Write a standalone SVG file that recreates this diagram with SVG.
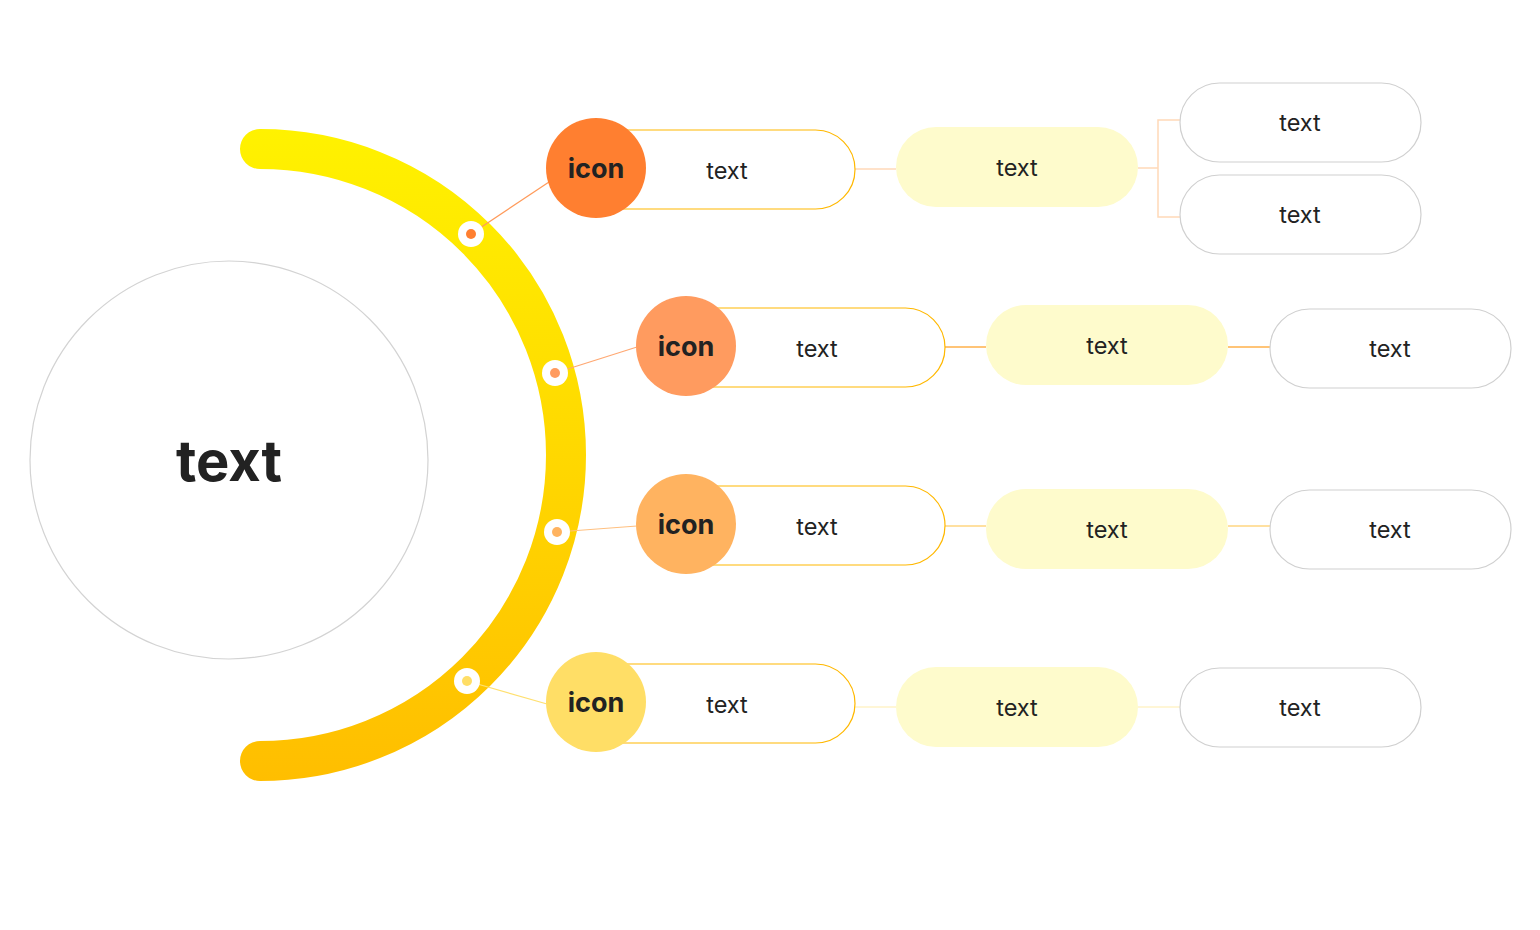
<svg xmlns="http://www.w3.org/2000/svg" width="1540" height="930" viewBox="0 0 1540 930">
<defs>
<linearGradient id="arcGrad" x1="0" y1="129" x2="0" y2="781" gradientUnits="userSpaceOnUse">
<stop offset="0" stop-color="#FFF200"/>
<stop offset="1" stop-color="#FFBE00"/>
</linearGradient>
</defs>
<style>
.t{font-family:Inter,"Liberation Sans",sans-serif;fill:#222;text-anchor:middle;dominant-baseline:central}
.lbl{font-size:23.5px}
.icon{font-size:27px;font-weight:700}
.big{font-size:56px;font-weight:700}
.outline{fill:#fff;stroke:#FFB800;stroke-width:1.2}
.yel{fill:#FEFBCC}
.gray{fill:#fff;stroke:#D0D0D0;stroke-width:1.2}
.ring{fill:#fff}
</style>
<rect width="1540" height="930" fill="#fff"/>
<g id="center">
<circle cx="229" cy="460" r="199" fill="#fff" stroke="#D3D3D3" stroke-width="1.2"/>
<text class="t big" x="229" y="461">text</text>
</g>
<g id="arc">
<path d="M260,149 A306,306 0 0 1 260,761" fill="none" stroke="url(#arcGrad)" stroke-width="40" stroke-linecap="round"/>
</g>
<g id="connectors" fill="none" stroke-width="1.2">
<line x1="471" y1="234" x2="549" y2="182" stroke="#FF9A5A"/>
<line x1="555" y1="373" x2="637" y2="347" stroke="#FFA872"/>
<line x1="557" y1="532" x2="637" y2="526" stroke="#FFC080"/>
<line x1="467" y1="681" x2="547" y2="704" stroke="#FFE070"/>
<line x1="855" y1="169" x2="896" y2="169" stroke="#FFD9B8" stroke-width="1.5"/>
<path d="M1138,168 H1158 M1180,120 H1158 V217 H1180" stroke="#FFD9B8" stroke-width="1.5"/>
<line x1="945" y1="347" x2="986" y2="347" stroke="#FFB04A" stroke-width="1.5"/>
<line x1="1228" y1="347" x2="1270" y2="347" stroke="#FFB04A" stroke-width="1.5"/>
<line x1="945" y1="526" x2="986" y2="526" stroke="#FFE0A0" stroke-width="2"/>
<line x1="1228" y1="526" x2="1270" y2="526" stroke="#FFE0A0" stroke-width="2"/>
<line x1="855" y1="707" x2="896" y2="707" stroke="#FFF3C8" stroke-width="1.5"/>
<line x1="1138" y1="707" x2="1180" y2="707" stroke="#FFF3C8" stroke-width="1.5"/>
</g>
<g id="dots">
<circle class="ring" cx="471" cy="234" r="13"/><circle cx="471" cy="234" r="5" fill="#FF7F30"/>
<circle class="ring" cx="555" cy="373" r="13"/><circle cx="555" cy="373" r="5" fill="#FF9B5F"/>
<circle class="ring" cx="557" cy="532" r="13"/><circle cx="557" cy="532" r="5" fill="#FFB360"/>
<circle class="ring" cx="467" cy="681" r="13"/><circle cx="467" cy="681" r="5" fill="#FFDE66"/>
</g>
<g id="row1-main">
<rect class="outline" x="560" y="130" width="295" height="79" rx="39.5"/>
<circle cx="596" cy="168" r="50" fill="#FF7F30"/>
<text class="t icon" x="596" y="168">icon</text>
<text class="t lbl" x="727" y="170">text</text>
</g>
<g id="row1-mid"><rect class="yel" x="896" y="127" width="242" height="80" rx="40"/><text class="t lbl" x="1017" y="167">text</text></g>
<g id="row1-leafA"><rect class="gray" x="1180" y="83" width="241" height="79" rx="39.5"/><text class="t lbl" x="1300" y="122">text</text></g>
<g id="row1-leafB"><rect class="gray" x="1180" y="175" width="241" height="79" rx="39.5"/><text class="t lbl" x="1300" y="214">text</text></g>
<g id="row2-main">
<rect class="outline" x="650" y="308" width="295" height="79" rx="39.5"/>
<circle cx="686" cy="346" r="50" fill="#FF9B5F"/>
<text class="t icon" x="686" y="346">icon</text>
<text class="t lbl" x="817" y="348">text</text>
</g>
<g id="row2-mid"><rect class="yel" x="986" y="305" width="242" height="80" rx="40"/><text class="t lbl" x="1107" y="345">text</text></g>
<g id="row2-leaf"><rect class="gray" x="1270" y="309" width="241" height="79" rx="39.5"/><text class="t lbl" x="1390" y="348">text</text></g>
<g id="row3-main">
<rect class="outline" x="650" y="486" width="295" height="79" rx="39.5"/>
<circle cx="686" cy="524" r="50" fill="#FFB360"/>
<text class="t icon" x="686" y="524">icon</text>
<text class="t lbl" x="817" y="526">text</text>
</g>
<g id="row3-mid"><rect class="yel" x="986" y="489" width="242" height="80" rx="40"/><text class="t lbl" x="1107" y="529">text</text></g>
<g id="row3-leaf"><rect class="gray" x="1270" y="490" width="241" height="79" rx="39.5"/><text class="t lbl" x="1390" y="529">text</text></g>
<g id="row4-main">
<rect class="outline" x="560" y="664" width="295" height="79" rx="39.5"/>
<circle cx="596" cy="702" r="50" fill="#FFDE66"/>
<text class="t icon" x="596" y="702">icon</text>
<text class="t lbl" x="727" y="704">text</text>
</g>
<g id="row4-mid"><rect class="yel" x="896" y="667" width="242" height="80" rx="40"/><text class="t lbl" x="1017" y="707">text</text></g>
<g id="row4-leaf"><rect class="gray" x="1180" y="668" width="241" height="79" rx="39.5"/><text class="t lbl" x="1300" y="707">text</text></g>
</svg>
